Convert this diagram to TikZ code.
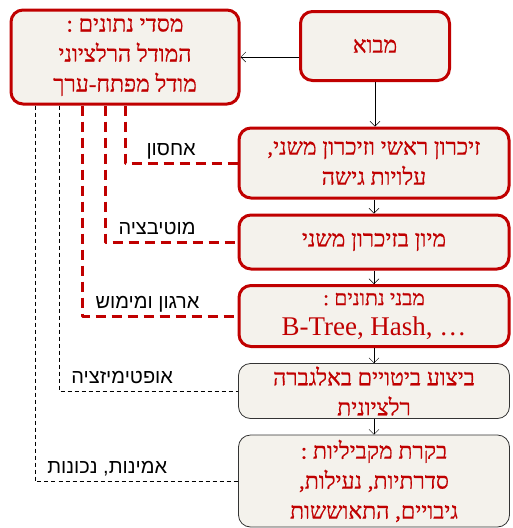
\documentclass[tikz,border=0pt]{standalone}
\usepackage{fontspec}
\usetikzlibrary{arrows.meta}
\setmainfont{Liberation Serif}
\newfontfamily\hebfont[Script=Hebrew, FakeBold=0.6]{Liberation Serif}
\newfontfamily\lblfont[Script=Hebrew]{Liberation Sans}
\TeXXeTstate=1
\newcommand{\rl}[1]{\beginR #1\endR}
\definecolor{boxred}{HTML}{C00000}
\definecolor{boxfill}{HTML}{F4F2EC}
\begin{document}
\begin{tikzpicture}[x=1pt, y=-1pt, line join=round, >={Straight Barb[length=5pt,width=10pt]},
	box/.style={draw=boxred, line width=3pt, rounded corners=12pt, fill=boxfill, text=boxred, align=center, inner sep=0pt, font=\hebfont\fontsize{23}{30}\selectfont},
	thinbox/.style={box, draw=black!80, line width=0.8pt},
	reddash/.style={draw=boxred, line width=3pt, dash pattern=on 10pt off 6pt},
	blackdash/.style={draw=black, line width=0.8pt, dash pattern=on 4pt off 3pt},
	lbl/.style={anchor=base west, xshift=12pt, yshift=8pt, inner sep=0pt, font=\lblfont\fontsize{20}{24}\selectfont}]
	\useasboundingbox (0,0) rectangle (512,528);
	% boxes
	\node[box, minimum width=228pt, minimum height=94pt] (data) at (125,57) {\rl{מסדי נתונים :}\\ \rl{המודל הרלציוני}\\ \rl{מודל מפתח-ערך}};
	\node[box, minimum width=149pt, minimum height=69pt] (intro) at (375,46) {\rl{מבוא}};
	\node[box, minimum width=270pt, minimum height=70pt] (mem) at (374,163) {\rl{זיכרון ראשי וזיכרון משני,}\\ \rl{עלויות גישה}};
	\node[box, minimum width=270pt, minimum height=54pt] (sort) at (374,242) {\rl{מיון בזיכרון משני}};
	\node[box, minimum width=270pt, minimum height=61pt] (ds) at (374,316) {{\fontsize{21}{24}\selectfont\rl{מבני נתונים :}}\\ {\rmfamily\fontsize{27}{30}\selectfont B-Tree, Hash, \dots}};
	\node[thinbox, minimum width=271pt, minimum height=55pt] (alg) at (374,391) {\rl{ביצוע ביטויים באלגברה}\\ \rl{רלציונית}};
	\node[thinbox, minimum width=271pt, minimum height=92pt] (conc) at (374,481) {\rl{בקרת מקביליות :}\\ \rl{סדרתיות, נעילות,}\\ \rl{גיבויים, התאוששות}};
	% arrows
	\draw[->] (intro.west |- data.east) -- (data.east);
	\draw[->] (intro.south) -- (intro.south |- mem.north);
	\foreach \a/\b in {mem/sort, sort/ds, ds/alg, alg/conc}
		\draw[->] (\a) -- (\b);
	% topics
	\draw[reddash] (data.south) |- (mem.west) node[lbl, pos=0.5, xshift=8pt]{\rl{אחסון}};
	\draw[reddash] ([xshift=-20pt]data.south) |- (sort.west) node[lbl, pos=0.5]{\rl{מוטיבציה}};
	\draw[reddash] ([xshift=-43pt]data.south) |- (ds.west) node[lbl, pos=0.5]{\rl{ארגון ומימוש}};
	\draw[blackdash] ([xshift=-66pt]data.south) |- (alg.west) node[lbl, pos=0.5]{\rl{אופטימיזציה}};
	\draw[blackdash] ([xshift=-90pt]data.south) |- (conc.west) node[lbl, pos=0.5]{\rl{אמינות, נכונות}};
\end{tikzpicture}
\end{document}
